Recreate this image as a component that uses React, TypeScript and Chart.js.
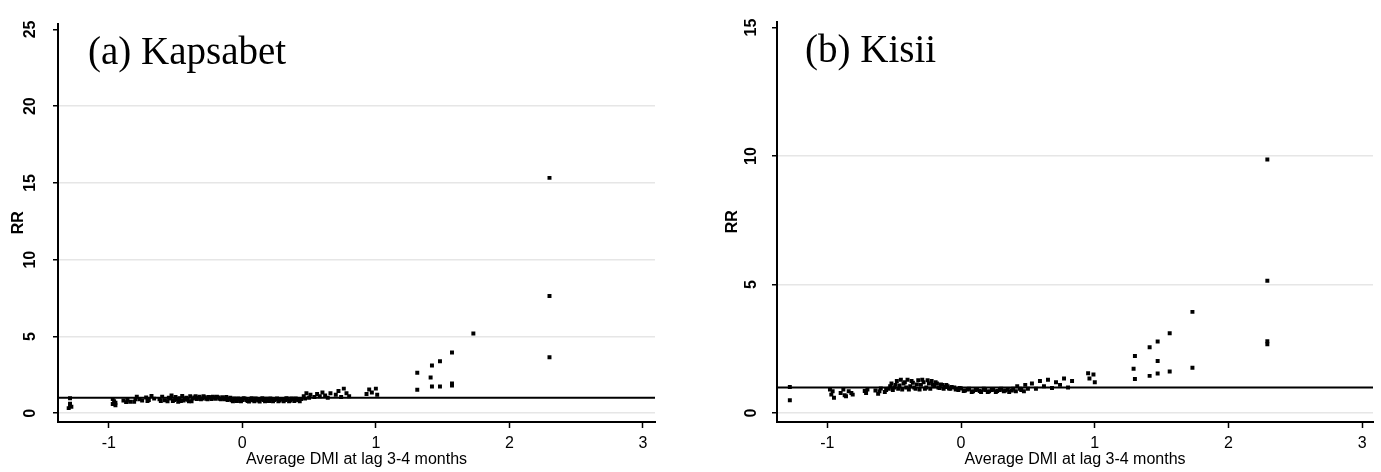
import React, { useEffect, useRef } from 'react';
import { Chart, registerables } from 'chart.js';

Chart.register(...registerables);

// ---- data ----
const xTicks = [-1, 0, 1, 2, 3];
const kapsabetYTicks = [0, 5, 10, 15, 20, 25];
const kisiiYTicks = [0, 5, 10, 15];
const referenceRR = 1;
const xAxisTitle = 'Average DMI at lag 3-4 months';
const yAxisTitle = 'RR';

const kapsabetPoints: [number, number][] = [
  [-1.29, 0.98], [-1.29, 0.62], [-1.28, 0.42], [-1.3, 0.33], [-1.29, 0.52],
  [-0.97, 0.92], [-0.97, 0.6], [-0.96, 0.78], [-0.95, 0.52], [-0.95, 0.68],
  [-0.89, 0.82], [-0.87, 0.72], [-0.86, 0.88], [-0.84, 0.75],
  [-0.81, 0.74], [-0.8, 0.9], [-0.79, 1.08], [-0.77, 0.9], [-0.75, 0.82],
  [-0.72, 1.02], [-0.71, 0.8], [-0.7, 0.86], [-0.68, 1.12], [-0.66, 0.95],
  [-0.62, 0.9], [-0.61, 0.8], [-0.6, 1.08], [-0.58, 0.84],
  [-0.56, 0.78], [-0.55, 1.0], [-0.54, 0.95], [-0.53, 1.15], [-0.52, 0.8], [-0.51, 0.85], [-0.5, 1.05],
  [-0.49, 0.92], [-0.48, 0.75], [-0.47, 0.98], [-0.46, 0.8], [-0.45, 1.12], [-0.44, 0.82], [-0.43, 0.92],
  [-0.42, 1.0], [-0.41, 0.88], [-0.4, 0.78], [-0.39, 1.1], [-0.38, 0.78], [-0.37, 0.95],
  [-0.36, 1.02], [-0.35, 1.1], [-0.34, 0.92], [-0.33, 1.0], [-0.32, 1.08], [-0.31, 0.9], [-0.3, 0.96],
  [-0.29, 1.1], [-0.28, 1.04], [-0.27, 0.94], [-0.26, 0.9], [-0.25, 1.06], [-0.24, 1.0],
  [-0.23, 0.92], [-0.22, 1.08], [-0.21, 1.0], [-0.2, 0.94], [-0.19, 1.08], [-0.18, 1.02],
  [-0.17, 0.94], [-0.16, 0.9], [-0.15, 1.04], [-0.14, 0.98], [-0.13, 0.9], [-0.12, 1.05],
  [-0.11, 0.86], [-0.1, 0.92], [-0.09, 1.0], [-0.08, 0.84], [-0.07, 0.78], [-0.06, 0.96], [-0.05, 0.88],
  [-0.04, 0.8], [-0.03, 0.96], [-0.02, 0.9], [-0.01, 0.78], [0, 0.86], [0.01, 0.98], [0.02, 0.95],
  [0.03, 0.86], [0.04, 0.8], [0.05, 0.76], [0.06, 0.9], [0.07, 0.98], [0.08, 0.84], [0.09, 0.78],
  [0.1, 0.96], [0.11, 0.88], [0.12, 0.82], [0.13, 0.76], [0.14, 0.9], [0.15, 0.98], [0.16, 0.86],
  [0.17, 0.78], [0.18, 0.94], [0.19, 0.86], [0.2, 0.8], [0.21, 0.96], [0.22, 0.9], [0.23, 0.78],
  [0.24, 0.85], [0.25, 0.92], [0.26, 0.96], [0.27, 0.78], [0.28, 0.82], [0.29, 0.92], [0.3, 0.9],
  [0.31, 0.78], [0.32, 0.86], [0.33, 0.98], [0.34, 0.94], [0.35, 0.78], [0.36, 0.82], [0.37, 0.96],
  [0.38, 0.9], [0.39, 0.8], [0.4, 0.96], [0.41, 0.88], [0.42, 0.85], [0.43, 0.78], [0.44, 0.92],
  [0.46, 1.1], [0.47, 0.95], [0.48, 1.3], [0.5, 1.0], [0.51, 1.2],
  [0.54, 1.05], [0.56, 1.25], [0.58, 1.1], [0.6, 1.35], [0.62, 1.15], [0.64, 1.0], [0.66, 1.3],
  [0.7, 1.2], [0.72, 1.45], [0.74, 1.05], [0.76, 1.6], [0.78, 1.3], [0.8, 1.1],
  [0.93, 1.25], [0.95, 1.55], [0.97, 1.35], [1.0, 1.6], [1.01, 1.2],
  [1.31, 2.64], [1.31, 1.53], [1.41, 2.32], [1.42, 3.1], [1.42, 1.74],
  [1.48, 3.38], [1.48, 1.74], [1.57, 3.95], [1.57, 1.93], [1.57, 1.8],
  [1.73, 5.19], [2.3, 15.33], [2.3, 7.63], [2.3, 3.65],
];

const kisiiPoints: [number, number][] = [
  [-1.28, 1.02], [-1.28, 0.5],
  [-0.98, 0.92], [-0.97, 0.72], [-0.95, 0.6], [-0.96, 0.85],
  [-0.9, 0.78], [-0.88, 0.92], [-0.87, 0.7], [-0.86, 0.66], [-0.84, 0.85], [-0.82, 0.78], [-0.81, 0.72],
  [-0.72, 0.86], [-0.71, 0.78], [-0.7, 0.92],
  [-0.64, 0.88], [-0.62, 0.75], [-0.61, 0.85], [-0.6, 0.96], [-0.57, 0.82], [-0.56, 0.9],
  [-0.54, 0.95], [-0.53, 1.05], [-0.52, 1.15], [-0.51, 0.9], [-0.5, 1.0], [-0.49, 1.1], [-0.48, 1.25],
  [-0.47, 0.95], [-0.46, 1.08], [-0.45, 1.3], [-0.44, 0.92], [-0.43, 1.15], [-0.42, 1.2], [-0.41, 1.0],
  [-0.4, 1.3], [-0.39, 0.92], [-0.38, 1.05], [-0.37, 1.25], [-0.36, 1.18], [-0.35, 1.0], [-0.34, 0.95],
  [-0.33, 1.12], [-0.32, 1.28], [-0.31, 0.92], [-0.3, 1.1], [-0.29, 1.3], [-0.28, 1.2], [-0.27, 0.95],
  [-0.26, 1.0], [-0.25, 1.28], [-0.24, 1.15], [-0.23, 0.95], [-0.22, 1.25], [-0.21, 1.1], [-0.2, 1.05],
  [-0.19, 1.2], [-0.18, 1.15], [-0.17, 1.0], [-0.16, 0.98], [-0.15, 1.12], [-0.14, 1.1], [-0.13, 0.95],
  [-0.12, 1.02], [-0.11, 1.1],
  [-0.1, 1.05], [-0.09, 0.96], [-0.08, 0.95], [-0.07, 1.02], [-0.05, 1.0], [-0.04, 0.92], [-0.02, 0.9],
  [-0.01, 0.98], [0.0, 0.96], [0.02, 0.86], [0.03, 0.88], [0.05, 0.92], [0.06, 0.95], [0.08, 0.82],
  [0.09, 0.85], [0.11, 0.9], [0.12, 0.92], [0.14, 0.86], [0.15, 0.82], [0.17, 0.95], [0.18, 0.9],
  [0.2, 0.82], [0.21, 0.85], [0.23, 0.9], [0.24, 0.92], [0.26, 0.82], [0.27, 0.86], [0.29, 0.9],
  [0.3, 0.95], [0.32, 0.85], [0.33, 0.88], [0.35, 0.92], [0.36, 0.82], [0.38, 0.88], [0.39, 0.95],
  [0.41, 0.85], [0.42, 1.05], [0.44, 0.95], [0.45, 0.9], [0.47, 0.85], [0.48, 1.1], [0.5, 0.95],
  [0.53, 1.15], [0.56, 0.95], [0.59, 1.25], [0.62, 1.05], [0.65, 1.3], [0.68, 0.98],
  [0.71, 1.2], [0.74, 1.1], [0.77, 1.35], [0.8, 1.0], [0.83, 1.25],
  [0.95, 1.55], [0.99, 1.5], [0.96, 1.35], [1.0, 1.2],
  [1.3, 2.22], [1.29, 1.73], [1.3, 1.33], [1.41, 2.56], [1.41, 1.45],
  [1.47, 2.79], [1.47, 2.03], [1.47, 1.54], [1.56, 3.11], [1.56, 1.62],
  [1.73, 3.94], [1.73, 1.77], [2.29, 9.87], [2.29, 5.15], [2.29, 2.8], [2.29, 2.68],
];

type PanelProps = {
  title: string;
  points: [number, number][];
  yTicks: number[];
  xMin: number;
  xMax: number;
  yMin: number;
  yMax: number;
  width: number;
  left: number;
  padLeft: number;
  padRight: number;
  yAxisWidth: number;
  yTickPad: number;
  titleDx: number;
};

function Panel(p: PanelProps) {
  const ref = useRef<HTMLCanvasElement | null>(null);
  useEffect(() => {
    if (!ref.current) return;
    const titlePlugin = {
      id: 'panelTitle',
      afterDraw(chart: any) {
        const { ctx, chartArea } = chart;
        ctx.save();
        ctx.fillStyle = '#000';
        ctx.font = '39px "Liberation Serif", "Times New Roman", serif';
        ctx.textBaseline = 'alphabetic';
        ctx.textAlign = 'left';
        ctx.fillText(p.title, chartArea.left + p.titleDx, chartArea.top + 40);
        ctx.restore();
      },
    };
    const lastTick = p.yTicks[p.yTicks.length - 1];
    const chart = new Chart(ref.current, {
      type: 'scatter',
      data: {
        datasets: [
          {
            data: p.points.map(([x, y]) => ({ x, y })),
            backgroundColor: '#000',
            borderWidth: 0,
            pointStyle: 'rect',
            pointRadius: 2.8,
            pointHoverRadius: 2.8,
          },
          {
            type: 'line',
            data: [
              { x: p.xMin, y: referenceRR },
              { x: p.xMax, y: referenceRR },
            ],
            borderColor: '#000',
            borderWidth: 2,
            pointRadius: 0,
            showLine: true,
            fill: false,
          } as any,
        ],
      },
      options: {
        animation: false,
        responsive: false,
        devicePixelRatio: 1,
        layout: { padding: { top: 15, left: p.padLeft, right: p.padRight, bottom: 0 } },
        plugins: { legend: { display: false }, tooltip: { enabled: false } },
        events: [],
        scales: {
          x: {
            type: 'linear',
            min: p.xMin,
            max: p.xMax,
            afterBuildTicks: (s: any) => {
              s.ticks = xTicks.map((v) => ({ value: v }));
            },
            afterFit: (s: any) => {
              s.height = 50;
            },
            border: { color: '#000', width: 2 },
            grid: { drawOnChartArea: false, tickColor: '#000', tickLength: 6, tickWidth: 1.5 },
            ticks: {
              padding: 6,
              color: '#000',
              maxRotation: 0,
              autoSkip: false,
              font: { family: '"Liberation Sans", Arial, sans-serif', size: 16 },
            },
            title: {
              display: true,
              text: xAxisTitle,
              color: '#000',
              font: { family: '"Liberation Sans", Arial, sans-serif', size: 16 },
              padding: { top: 0, bottom: 3 },
            },
          },
          y: {
            type: 'linear',
            min: p.yMin,
            max: p.yMax,
            afterBuildTicks: (s: any) => {
              s.ticks = p.yTicks.map((v) => ({ value: v }));
            },
            afterFit: (s: any) => {
              s.width = p.yAxisWidth;
            },
            border: { color: '#000', width: 2 },
            grid: {
              color: (c: any) => (c.tick && c.tick.value === lastTick ? 'rgba(0,0,0,0)' : '#e6e6e6'),
              lineWidth: 1.5,
              tickColor: '#000',
              tickLength: 5,
              tickWidth: 1.5,
            },
            ticks: {
              minRotation: 90,
              maxRotation: 90,
              crossAlign: 'center',
              padding: p.yTickPad,
              color: '#000',
              font: { family: '"Liberation Sans", Arial, sans-serif', size: 16, weight: 'bold' },
            },
            title: {
              display: true,
              text: yAxisTitle,
              color: '#000',
              font: { family: '"Liberation Sans", Arial, sans-serif', size: 16, weight: 'bold' },
              padding: 0,
            },
          },
        },
      } as any,
      plugins: [titlePlugin],
    });
    return () => chart.destroy();
  }, []);
  return (
    <canvas
      ref={ref}
      width={p.width}
      height={472}
      style={{ position: 'absolute', left: p.left, top: 0, width: p.width, height: 472, display: 'block' }}
    />
  );
}

export default function App() {
  useEffect(() => {
    document.body.style.margin = '0';
    document.body.style.background = '#fff';
  }, []);
  return (
    <div style={{ position: 'relative', width: 1381, height: 472, background: '#fff' }}>
      <Panel
        title="(a) Kapsabet"
        points={kapsabetPoints}
        yTicks={kapsabetYTicks}
        xMin={-1.38}
        xMax={3.09}
        yMin={-0.574}
        yMax={25.38}
        width={690}
        left={0}
        padLeft={9}
        padRight={35}
        yAxisWidth={49}
        yTickPad={14}
        titleDx={30}
      />
      <Panel
        title="(b) Kisii"
        points={kisiiPoints}
        yTicks={kisiiYTicks}
        xMin={-1.376}
        xMax={3.08}
        yMin={-0.344}
        yMax={15.23}
        width={691}
        left={690}
        padLeft={33}
        padRight={8}
        yAxisWidth={54}
        yTickPad={12}
        titleDx={28}
      />
    </div>
  );
}
